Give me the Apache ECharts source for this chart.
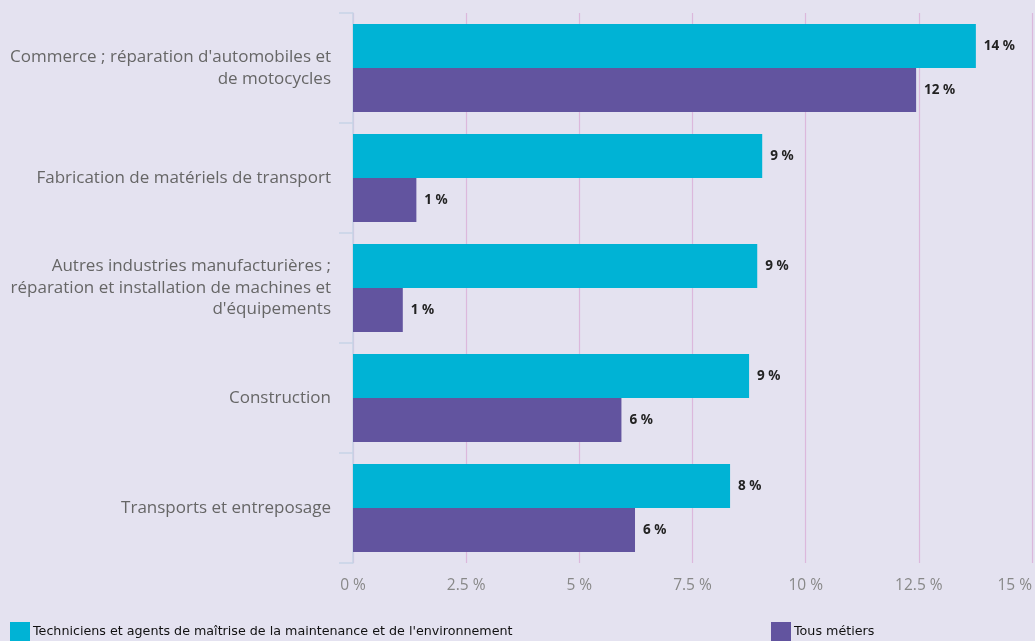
<!DOCTYPE html>
<html>
<head>
<meta charset="utf-8">
<script src="https://cdn.jsdelivr.net/npm/echarts@6/dist/echarts.min.js"></script>
<style>
  html, body { margin: 0; padding: 0; background: #e4e2f0; }
  #chart { width: 1035px; height: 641px; }
</style>
</head>
<body>
<div id="chart"></div>
<script>
  // secteurs (de haut en bas)
  var categories = [
    "Commerce ; réparation d'automobiles et\nde motocycles",
    "Fabrication de matériels de transport",
    "Autres industries manufacturières ;\nréparation et installation de machines et\nd'équipements",
    "Construction",
    "Transports et entreposage"
  ];
  var seriesNames = [
    "Techniciens et agents de maîtrise de la maintenance et de l'environnement",
    "Tous métiers"
  ];
  var techniciens = [13.76, 9.04, 8.93, 8.75, 8.33];
  var tousMetiers = [12.44, 1.40, 1.10, 5.93, 6.23];
  var xTicks = [0, 2.5, 5, 7.5, 10, 12.5, 15];

  var chart = echarts.init(document.getElementById('chart'));

  var labelStyle = {
    show: true,
    position: 'right',
    distance: 8,
    color: '#222',
    fontWeight: 'bold',
    fontSize: 13.5,
    fontFamily: 'Noto Sans',
    formatter: function(p) {
      return Math.round(p.value) + ' %';
    }
  };

  var legendText = { color: '#111', fontSize: 12.7, fontFamily: 'DejaVu Sans', padding: [0, 0, 0, -2] };

  chart.setOption({
    backgroundColor: '#e4e2f0',
    animation: false,
    // légendes
    legend: [{
      left: 10,
      top: 622,
      padding: 0,
      itemWidth: 20,
      itemHeight: 20,
      icon: 'rect',
      textStyle: legendText,
      data: [seriesNames[0]]
    }, {
      left: 771,
      top: 622,
      padding: 0,
      itemWidth: 20,
      itemHeight: 20,
      icon: 'rect',
      textStyle: legendText,
      data: [seriesNames[1]]
    }],
    grid: {
      left: 353,
      right: 3,
      top: 13,
      bottom: 78,
      containLabel: false,
      outerBoundsMode: 'none'
    },
    // axe X
    xAxis: {
      type: 'value',
      min: 0,
      max: 15,
      interval: 2.5,
      axisLine: { show: false },
      axisTick: { show: false },
      splitLine: {
        show: true,
        lineStyle: { color: '#dcb8dc', width: 1.2 }
      },
      axisLabel: {
        margin: 15,
        color: '#888',
        fontSize: 15.5,
        fontFamily: 'Open Sans',
        alignMaxLabel: 'right',
        formatter: function(v) {
          return xTicks.indexOf(v) >= 0 ? v + ' %' : '';
        }
      }
    },
    // axe Y
    yAxis: {
      type: 'category',
      inverse: true,
      data: categories,
      axisLine: { show: true, lineStyle: { color: '#c6d4e6', width: 1.5 } },
      axisTick: { show: true, length: 14, lineStyle: { color: '#c6d4e6', width: 1.5 } },
      axisLabel: {
        margin: 22,
        color: '#666',
        fontSize: 17,
        lineHeight: 21.5,
        fontFamily: 'Open Sans',
        align: 'right'
      }
    },
    series: [{
      name: seriesNames[0],
      type: 'bar',
      barGap: '0%',
      barCategoryGap: '20%',
      itemStyle: { color: '#00b3d5' },
      label: labelStyle,
      data: techniciens
    }, {
      name: seriesNames[1],
      type: 'bar',
      barGap: '0%',
      barCategoryGap: '20%',
      itemStyle: { color: '#62549f' },
      label: labelStyle,
      data: tousMetiers
    }]
  });
</script>
</body>
</html>
